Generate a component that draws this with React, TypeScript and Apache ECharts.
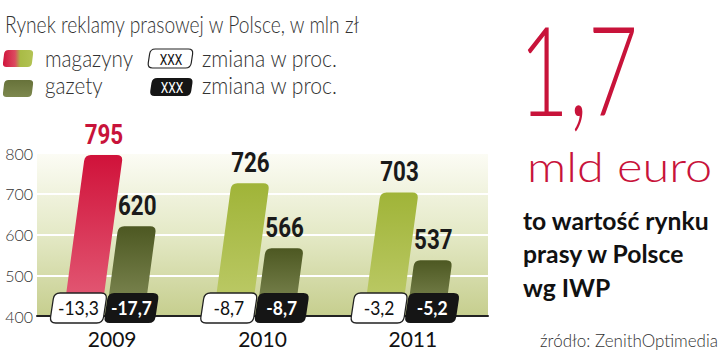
import React, { useEffect, useRef } from "react";
import * as echarts from "echarts";

// ---- data ----
const categories = ["2009", "2010", "2011"];
const magazyny = [795, 726, 703];
const gazety = [620, 566, 537];
const zmianaMagazyny = [-13.3, -8.7, -3.2];
const zmianaGazety = [-17.7, -8.7, -5.2];
const Y_MIN = 400;
const Y_MAX = 800;
const Y_STEP = 100;

// ---- styles ----
const RED = "#c8133a";
const SKEW = 0.135;
const BOX_SKEW = 0.15;
const BAR_W = 38;
const COND = "Roboto, 'Open Sans', sans-serif";
const LATO = "Lato, 'Open Sans', sans-serif";

function fmt(v: number) {
  return v.toFixed(1).replace(".", ",");
}

function skewPath(xcb: number, yb: number, w: number, h: number, s: number, rt: number, rb: number) {
  const P = (u: number, v: number) => `${(xcb + u + v * s).toFixed(2)} ${(yb - v).toFixed(2)}`;
  const L = -w / 2;
  const R = w / 2;
  let d = `M ${P(L, rb)} L ${P(L, h - rt)} Q ${P(L, h)} ${P(L + rt, h)} L ${P(R - rt, h)} Q ${P(R, h)} ${P(R, h - rt)} L ${P(R, rb)}`;
  if (rb > 0) {
    d += ` Q ${P(R, 0)} ${P(R - rb, 0)} L ${P(L + rb, 0)} Q ${P(L, 0)} ${P(L, rb)}`;
  }
  d += " Z";
  return d;
}

echarts.graphic.registerShape("legMag", echarts.graphic.extendPath(skewPath(17, 67, 29, 17, 0.12, 4, 4), {}));
echarts.graphic.registerShape("legGaz", echarts.graphic.extendPath(skewPath(17, 97, 29, 17, 0.12, 4, 4), {}));
echarts.graphic.registerShape("legWhite", echarts.graphic.extendPath(skewPath(169, 68, 43, 19, 0.15, 5, 5), {}));
echarts.graphic.registerShape("legBlack", echarts.graphic.extendPath(skewPath(170, 96, 41, 18, 0.15, 5, 5), {}));

const vgrad = (a: string, b: string) =>
  new echarts.graphic.LinearGradient(0, 0, 0, 1, [
    { offset: 0, color: a },
    { offset: 1, color: b },
  ]);

function makeRenderItem(kind: "mag" | "gaz") {
  return (params: any, api: any) => {
    const ci = api.value(0);
    const v = api.value(1);
    const ch = api.value(2);
    const top = api.coord([ci, v]);
    const base = api.coord([ci, Y_MIN]);
    const cx = top[0];
    const yb = base[1];
    const h = yb - top[1];
    const barOffset = kind === "mag" ? -30 : 13;
    const boxOffset = kind === "mag" ? -36 : 17;
    const boxW = kind === "mag" ? 53 : 51;
    const xcb = cx + barOffset;
    let fill: any;
    let labelColor = "#1a1a1a";
    if (kind === "mag") {
      if (ci === 0) {
        fill = vgrad("#d0123a", "#e4607a");
        labelColor = RED;
      } else {
        fill = vgrad("#a0b438", "#bfcc6c");
      }
    } else {
      fill = vgrad("#4d5822", "#838d58");
    }
    const barD = skewPath(xcb, yb, BAR_W, h, SKEW, 6, 0);
    const boxYb = yb + 7;
    const boxH = 30;
    const boxX = cx + boxOffset;
    const boxD = skewPath(boxX, boxYb, boxW, boxH, BOX_SKEW, 6, 6);
    return {
      type: "group",
      children: [
        { type: "path", shape: { pathData: barD }, style: { fill } },
        {
          type: "text",
          x: xcb + h * SKEW,
          y: top[1] - 7,
          scaleX: 0.8,
          style: {
            text: String(v),
            x: 0,
            y: 0,
            fill: labelColor,
            font: `bold 28px ${COND}`,
            align: "center",
            verticalAlign: "bottom",
            textAlign: "center",
            textVerticalAlign: "bottom",
          },
        },
        {
          type: "path",
          shape: { pathData: boxD },
          style: kind === "mag" ? { fill: "#ffffff", stroke: "#222", lineWidth: 1.3 } : { fill: "#151515" },
        },
        {
          type: "text",
          x: boxX + (boxH / 2) * BOX_SKEW,
          y: boxYb - boxH / 2,
          scaleX: 0.92,
          style: {
            text: fmt(ch),
            x: 0,
            y: 0,
            fill: kind === "mag" ? "#111" : "#fff",
            font: kind === "mag" ? `19px ${LATO}` : `bold 19px ${LATO}`,
            align: "center",
            verticalAlign: "middle",
            textAlign: "center",
            textVerticalAlign: "middle",
          },
        },
      ],
    };
  };
}

function txt(text: string, x: number, y: number, size: number, opts: any = {}) {
  const style: any = {
    text,
    fill: opts.fill ?? "#333",
    fontFamily: opts.family ?? LATO,
    fontSize: size,
    fontWeight: opts.weight ?? 300,
    align: opts.align ?? "left",
    verticalAlign: "middle",
    textAlign: opts.align ?? "left",
    textVerticalAlign: "middle",
  };
  if (opts.lineHeight) style.lineHeight = opts.lineHeight;
  return {
    type: "text",
    x,
    y,
    scaleX: opts.scaleX ?? 1,
    style,
  };
}

export default function App() {
  const ref = useRef<HTMLDivElement>(null);
  useEffect(() => {
    document.body.style.margin = "0";
    const chart = echarts.init(ref.current!, null, { renderer: "svg" });
    chart.setOption({
      animation: false,
      backgroundColor: "#ffffff",
      grid: {
        left: 37,
        right: 232,
        top: 153,
        bottom: 41,
        show: true,
        borderWidth: 0,
        backgroundColor: new echarts.graphic.LinearGradient(0, 0, 0, 1, [
          { offset: 0, color: "#fcfcf5" },
          { offset: 0.5, color: "#e4e9c6" },
          { offset: 1, color: "#c6ce8e" },
        ]),
      },
      xAxis: {
        type: "category",
        data: categories,
        axisLine: { show: true, lineStyle: { color: "#222", width: 2 } },
        axisTick: { show: false },
        axisLabel: { fontFamily: LATO, fontSize: 21, color: "#111", margin: 12 },
      },
      yAxis: {
        type: "value",
        min: Y_MIN,
        max: Y_MAX,
        interval: Y_STEP,
        axisLine: { show: false },
        axisTick: { show: false },
        splitLine: { lineStyle: { color: "#ffffff", width: 2 } },
        axisLabel: { fontFamily: LATO, fontSize: 16, fontWeight: 300, color: "#333", margin: 4 },
      },
      series: [
        {
          type: "custom",
          name: "magazyny",
          renderItem: makeRenderItem("mag"),
          data: categories.map((_, i) => [i, magazyny[i], zmianaMagazyny[i]]),
          z: 5,
        },
        {
          type: "custom",
          name: "gazety",
          renderItem: makeRenderItem("gaz"),
          data: categories.map((_, i) => [i, gazety[i], zmianaGazety[i]]),
          z: 5,
        },
      ],
      graphic: [
        txt("Rynek reklamy prasowej w Polsce, w mln zł", 5, 24, 23, { scaleX: 0.837 }),
        {
          type: "legMag",
          x: 0,
          y: 0,
          style: {
            fill: new echarts.graphic.LinearGradient(0, 0, 1, 0, [
              { offset: 0, color: "#d0143c" },
              { offset: 0.4, color: "#dc4a60" },
              { offset: 0.58, color: "#a9bb46" },
              { offset: 1, color: "#b3c354" },
            ]),
          },
        },
        { type: "legGaz", x: 0, y: 0, style: { fill: vgrad("#67723a", "#7d884e") } },
        { type: "legWhite", x: 0, y: 0, style: { fill: "#fff", stroke: "#222", lineWidth: 1.2 } },
        { type: "legBlack", x: 0, y: 0, style: { fill: "#151515" } },
        txt("XXX", 171, 59, 15, { family: COND, weight: "normal", fill: "#111", align: "center", scaleX: 0.8 }),
        txt("XXX", 172, 87, 15, { family: COND, weight: "normal", fill: "#fff", align: "center", scaleX: 0.8 }),
        txt("magazyny", 45, 58, 24, { scaleX: 0.86 }),
        txt("gazety", 45, 85, 24, { scaleX: 0.86 }),
        txt("zmiana w proc.", 202, 58, 24, { scaleX: 0.88 }),
        txt("zmiana w proc.", 202, 85, 24, { scaleX: 0.88 }),
        txt("1,7", 519, 68, 125, { scaleX: 0.69, fill: RED, weight: 300, lineHeight: 110 }),
        txt("mld euro", 527, 166, 42, { fill: RED, weight: 300, scaleX: 1.16 }),
        txt("to wartość rynku", 523, 221, 24, { fill: "#111", weight: "bold", scaleX: 1.03 }),
        txt("prasy w Polsce", 523, 254, 24, { fill: "#111", weight: "bold", scaleX: 1.03 }),
        txt("wg IWP", 523, 288, 24, { fill: "#111", weight: "bold", scaleX: 1.03 }),
        txt("źródło: ZenithOptimedia", 718, 340, 17, { align: "right", fill: "#333" }),
      ],
    });
    return () => chart.dispose();
  }, []);
  return <div ref={ref} style={{ position: "fixed", left: 0, top: 0, width: 720, height: 357 }} />;
}
